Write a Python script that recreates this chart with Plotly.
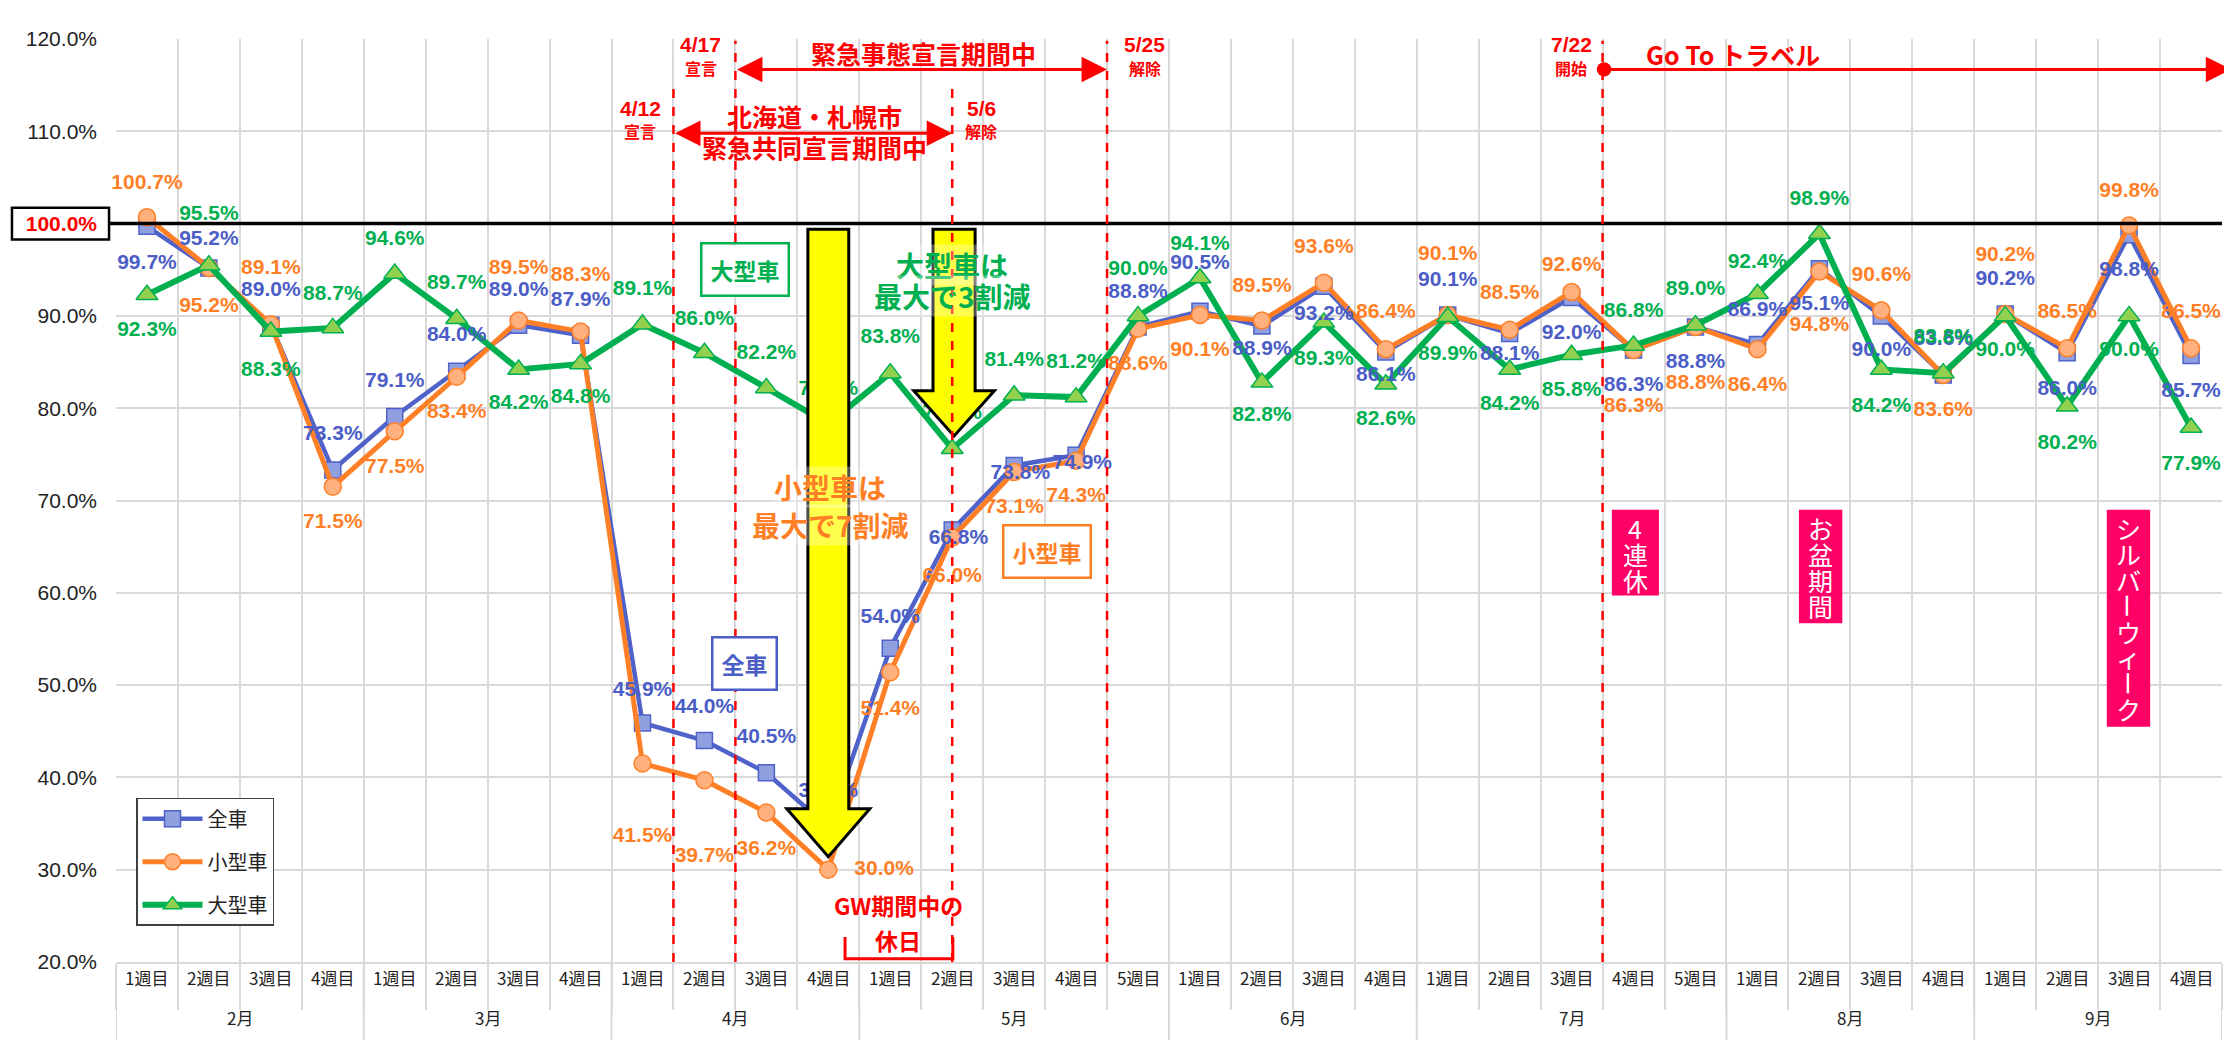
import plotly.graph_objects as go

# ---------------- data ----------------
months = ["2月", "3月", "4月", "5月", "6月", "7月", "8月", "9月"]
month_weeks = [4, 4, 4, 5, 4, 5, 4, 4]
week_labels = ["1週目", "2週目", "3週目", "4週目",
               "1週目", "2週目", "3週目", "4週目",
               "1週目", "2週目", "3週目", "4週目",
               "1週目", "2週目", "3週目", "4週目", "5週目",
               "1週目", "2週目", "3週目", "4週目",
               "1週目", "2週目", "3週目", "4週目", "5週目",
               "1週目", "2週目", "3週目", "4週目",
               "1週目", "2週目", "3週目", "4週目"]

all_cars = [99.7, 95.2, 89.0, 73.3, 79.1, 84.0, 89.0, 87.9, 45.9, 44.0, 40.5, 34.6,
            54.0, 66.8, 73.8, 74.9, 88.8, 90.5, 88.9, 93.2, 86.1, 90.1, 88.1, 92.0,
            86.3, 88.8, 86.9, 95.1, 90.0, 83.6, 90.2, 86.0, 98.8, 85.7]
small_cars = [100.7, 95.2, 89.1, 71.5, 77.5, 83.4, 89.5, 88.3, 41.5, 39.7, 36.2, 30.0,
              51.4, 66.0, 73.1, 74.3, 88.6, 90.1, 89.5, 93.6, 86.4, 90.1, 88.5, 92.6,
              86.3, 88.8, 86.4, 94.8, 90.6, 83.6, 90.2, 86.5, 99.8, 86.5]
large_cars = [92.3, 95.5, 88.3, 88.7, 94.6, 89.7, 84.2, 84.8, 89.1, 86.0, 82.2, 78.3,
              83.8, 75.6, 81.4, 81.2, 90.0, 94.1, 82.8, 89.3, 82.6, 89.9, 84.2, 85.8,
              86.8, 89.0, 92.4, 98.9, 84.2, 83.8, 90.0, 80.2, 90.0, 77.9]

y_ticks = [20, 30, 40, 50, 60, 70, 80, 90, 100, 110, 120]
y_tick_labels = ["20.0%", "30.0%", "40.0%", "50.0%", "60.0%", "70.0%", "80.0%",
                 "90.0%", "100.0%", "110.0%", "120.0%"]

# ---------------- label placement (style, offsets in axis units) ----------------
dy_all = [-4.0, 3.0, 3.7, 3.8, 3.8, 3.8, 3.7, 3.7, 3.5, 3.6, 3.8, 3.8,
          3.3, -0.9, -0.9, -0.9, 3.7, 5.2, -2.6, -3.1, -2.6, 3.7, -2.3, -3.9,
          -3.9, -3.9, 3.7, -3.9, -3.8, 3.8, 3.7, -4.0, -3.9, -3.9]
dx_all = [0] * 13 + [0.1, 0.1, 0.1] + [0] * 18
dy_small = [3.6, -4.2, 6.0, -3.9, -4.0, -3.9, 5.6, 6.0, -7.9, -8.3, -4.0, 0.0,
            -4.1, -4.3, -3.9, -3.9, -3.9, -3.9, 3.7, 3.8, 3.9, 6.5, 3.9, 2.8,
            -6.1, -6.1, -4.0, -5.9, 3.8, -3.9, 6.3, 3.8, 3.7, 3.8]
dx_small = [0] * 11 + [0.9] + [0] * 22
dy_large = [-3.9, 5.5, -4.2, 3.6, 3.6, 3.8, -3.7, -3.7, 3.7, 3.6, 3.7, 3.7,
            3.8, 3.8, 3.7, 3.7, 5.0, 3.6, -3.6, -4.1, -3.8, -4.1, -3.8, -3.9,
            3.7, 3.8, 3.4, 3.7, -4.0, 3.8, -3.8, -4.0, -3.8, -4.0]
dx_large = [0] * 34

NUM_FONT = "Liberation Sans Narrow, Liberation Sans, Noto Sans CJK JP"
JP_FONT = "Noto Sans CJK JP, Noto Sans, sans-serif"
BLUE, BLUE_FILL, BLUE_TXT = "#4F62C9", "#8F9FE0", "#4B5DC6"
ORANGE, ORANGE_FILL, ORANGE_TXT = "#FF7F27", "#FFB07C", "#FF7F27"
GREEN, GREEN_FILL, GREEN_TXT = "#00B050", "#92D050", "#00B050"
RED = "#FF0000"
PINK = "#FF0066"
GRID = "#D9D9D9"

x = list(range(len(week_labels)))

fig = go.Figure()

series = [
    ("全車", all_cars, BLUE, 4.5, "square", BLUE_FILL, 16, BLUE_TXT, dx_all, dy_all),
    ("小型車", small_cars, ORANGE, 5, "circle", ORANGE_FILL, 17, ORANGE_TXT, dx_small, dy_small),
    ("大型車", large_cars, GREEN, 6, "triangle-up", GREEN_FILL, 19, GREEN_TXT, dx_large, dy_large),
]

for name, yv, lc, lw, sym, fill, msize, tcol, dxs, dys in series:
    fig.add_trace(go.Scatter(
        x=x, y=yv, name=name, legendgroup=name,
        mode="lines+markers",
        line=dict(color=lc, width=lw),
        marker=dict(symbol=sym, size=msize, color=fill, line=dict(color=lc, width=1.5)),
        cliponaxis=False, hoverinfo="skip",
    ))

for name, yv, lc, lw, sym, fill, msize, tcol, dxs, dys in series:
    fig.add_trace(go.Scatter(
        x=[i + d for i, d in zip(x, dxs)],
        y=[v + d for v, d in zip(yv, dys)],
        mode="text", showlegend=False, legendgroup=name,
        text=[f"<b>{v:.1f}%</b>" for v in yv],
        textposition="middle center",
        textfont=dict(color=tcol, size=21, family=NUM_FONT),
        cliponaxis=False, hoverinfo="skip",
    ))

shapes = []
annotations = []

# month separators in the label area
bound = -0.5
month_bounds = [bound]
for n in month_weeks:
    bound += n
    month_bounds.append(bound)
for b in month_bounds:
    shapes.append(dict(type="line", xref="x", yref="paper", x0=b, x1=b, y0=0, y1=-0.095,
                       line=dict(color=GRID, width=2), layer="above"))

# week and month labels
for i, w in enumerate(week_labels):
    annotations.append(dict(x=i, y=-0.032, xref="x", yref="paper", text=w, showarrow=False,
                            font=dict(size=17, color="#222222", family=JP_FONT)))
for k, m in enumerate(months):
    c = (month_bounds[k] + month_bounds[k + 1]) / 2
    annotations.append(dict(x=c, y=-0.076, xref="x", yref="paper", text=m, showarrow=False,
                            font=dict(size=17, color="#222222", family=JP_FONT)))

# 100% reference line and the box around its tick label
shapes.append(dict(type="line", xref="paper", yref="y", x0=-0.0033, x1=1, y0=100, y1=100,
                   line=dict(color="black", width=3.5), layer="above"))
shapes.append(dict(type="rect", xref="paper", yref="y", x0=-0.0494, x1=-0.0033, y0=98.27, y1=101.73,
                   line=dict(color="black", width=2.5), fillcolor="rgba(0,0,0,0)", layer="above"))


# yellow arrows
def down_arrow(cx, top, base, tip, sw, hw, lw):
    return dict(type="path", xref="x", yref="y",
                path=(f"M {cx - sw},{top} L {cx + sw},{top} L {cx + sw},{base} L {cx + hw},{base} "
                      f"L {cx},{tip} L {cx - hw},{base} L {cx - sw},{base} Z"),
                fillcolor="#FFFF00", line=dict(color="black", width=lw), layer="above")


shapes.append(down_arrow(11.0, 99.4, 36.6, 31.4, 0.33, 0.67, 3))
shapes.append(down_arrow(13.03, 99.4, 81.9, 77.0, 0.34, 0.65, 3))

# red dashed event lines
event_lines = [(8.5, 115.2), (9.5, 119.8), (13.0, 115.1), (15.5, 119.8), (23.5, 119.8)]
for ex, top in event_lines:
    shapes.append(dict(type="line", xref="x", yref="y", x0=ex, x1=ex, y0=20, y1=top,
                       line=dict(color=RED, width=2.5, dash="dash"), layer="above"))

# GW bracket
shapes.append(dict(type="path", xref="x", yref="y",
                   path="M 11.27,22.7 L 11.27,20.35 L 13.01,20.35 L 13.01,22.7",
                   line=dict(color=RED, width=3), layer="above"))

# date labels
date_labels = [("4/12", "宣言", 7.96, 112.5, 110.0),
               ("4/17", "宣言", 8.94, 119.4, 116.9),
               ("5/6", "解除", 13.47, 112.5, 110.0),
               ("5/25", "解除", 16.11, 119.4, 116.9),
               ("7/22", "開始", 22.99, 119.4, 116.9)]
for d, s, dx, y1, y2 in date_labels:
    annotations.append(dict(x=dx, y=y1, xref="x", yref="y", text=f"<b>{d}</b>", showarrow=False,
                            font=dict(size=21, color=RED, family=NUM_FONT)))
    annotations.append(dict(x=dx, y=y2, xref="x", yref="y", text=f"<b>{s}</b>", showarrow=False,
                            font=dict(size=16, color=RED, family=JP_FONT)))


# horizontal period arrows
def h_arrow(x_head, x_tail, yv, start_head=2):
    return dict(x=x_head, y=yv, ax=x_tail, ay=yv, xref="x", yref="y", axref="x", ayref="y",
                text="", showarrow=True, arrowhead=2, startarrowhead=start_head,
                arrowside="end+start", arrowsize=1.7, startarrowsize=1.7 if start_head == 2 else 1.2,
                arrowwidth=3, arrowcolor=RED, standoff=0, startstandoff=0)


annotations.append(h_arrow(15.5, 9.5, 116.7))
annotations.append(h_arrow(13.0, 8.5, 109.8))
annotations.append(h_arrow(33.65, 23.5, 116.7, start_head=6))

period_texts = [("緊急事態宣言期間中", 12.53, 118.5),
                ("北海道・札幌市", 10.78, 111.7),
                ("緊急共同宣言期間中", 10.78, 108.3),
                ("Go To トラベル", 25.6, 118.4)]
for t, tx, ty in period_texts:
    annotations.append(dict(x=tx, y=ty, xref="x", yref="y", text=f"<b>{t}</b>", showarrow=False,
                            font=dict(size=25, color=RED, family=JP_FONT)))

# boxed series labels
box_labels = [("大型車", 9.65, 95.0, GREEN), ("全車", 9.65, 52.3, BLUE_TXT), ("小型車", 14.53, 64.5, ORANGE)]
for t, bx, by, col in box_labels:
    annotations.append(dict(x=bx, y=by, xref="x", yref="y", text=f"<b>{t}</b>", showarrow=False,
                            font=dict(size=23, color=col, family=JP_FONT),
                            bgcolor="white", bordercolor=col, borderwidth=2.5, borderpad=8))

# big comments
comments = [("大型車は", 13.0, 95.5, GREEN), ("最大で3割減", 13.0, 92.2, GREEN),
            ("小型車は", 11.03, 71.5, ORANGE), ("最大で7割減", 11.03, 67.3, ORANGE)]
for t, cx, cy, col in comments:
    annotations.append(dict(x=cx, y=cy, xref="x", yref="y", text=f"<b>{t}</b>", showarrow=False,
                            font=dict(size=28, color=col, family=JP_FONT),
                            bgcolor="rgba(255,255,255,0.3)", borderpad=0))

gw_texts = [("GW期間中の", 12.13, 26.2), ("休日", 12.13, 22.4)]
for t, gx, gy in gw_texts:
    annotations.append(dict(x=gx, y=gy, xref="x", yref="y", text=f"<b>{t}</b>", showarrow=False,
                            font=dict(size=23, color=RED, family=JP_FONT)))

# pink vertical holiday labels
holiday_labels = [("4連休", 23.65, 24.41, 69.0, 59.7),
                  ("お盆期間", 26.67, 27.37, 69.0, 56.7),
                  ("シルバーウィーク", 31.64, 32.34, 69.0, 45.5)]
for t, hx0, hx1, hy0, hy1 in holiday_labels:
    shapes.append(dict(type="rect", xref="x", yref="y", x0=hx0, x1=hx1, y0=hy1, y1=hy0,
                       fillcolor=PINK, line=dict(width=0), layer="above"))
    for j, ch in enumerate(t):
        annotations.append(dict(x=(hx0 + hx1) / 2, y=67.0 - j * 2.8, xref="x", yref="y",
                                text=ch, showarrow=False, textangle=90 if ch == "ー" else 0,
                                font=dict(size=25, color="white", family=JP_FONT)))

fig.update_layout(
    width=2232, height=1040,
    margin=dict(l=108, r=18, t=31, b=86),
    paper_bgcolor="white", plot_bgcolor="white",
    showlegend=True,
    legend=dict(x=0.0095, y=0.178, xanchor="left", yanchor="top",
                bgcolor="white", bordercolor="#404040", borderwidth=1.5,
                font=dict(size=20, color="#222222", family=JP_FONT),
                traceorder="grouped", tracegroupgap=14, itemwidth=60),
    shapes=shapes, annotations=annotations,
)
fig.update_xaxes(range=[-0.5, 33.5], tick0=-0.5, dtick=1, showgrid=True, gridcolor=GRID, gridwidth=2,
                 showticklabels=False, ticks="outside", ticklen=46, tickcolor=GRID, tickwidth=2,
                 showline=True, linecolor=GRID, linewidth=2, zeroline=False)
y_ticktext = [f"<span style='color:red'><b>{lab}</b></span>" if v == 100 else lab
              for v, lab in zip(y_ticks, y_tick_labels)]
fig.update_yaxes(range=[20, 120], tickvals=y_ticks, ticktext=y_ticktext, showgrid=True,
                 gridcolor=GRID, gridwidth=2, zeroline=False, ticks="", ticklabelstandoff=18,
                 tickfont=dict(size=21, color="#222222", family=NUM_FONT), showline=False)

fig.write_html("out.html")
